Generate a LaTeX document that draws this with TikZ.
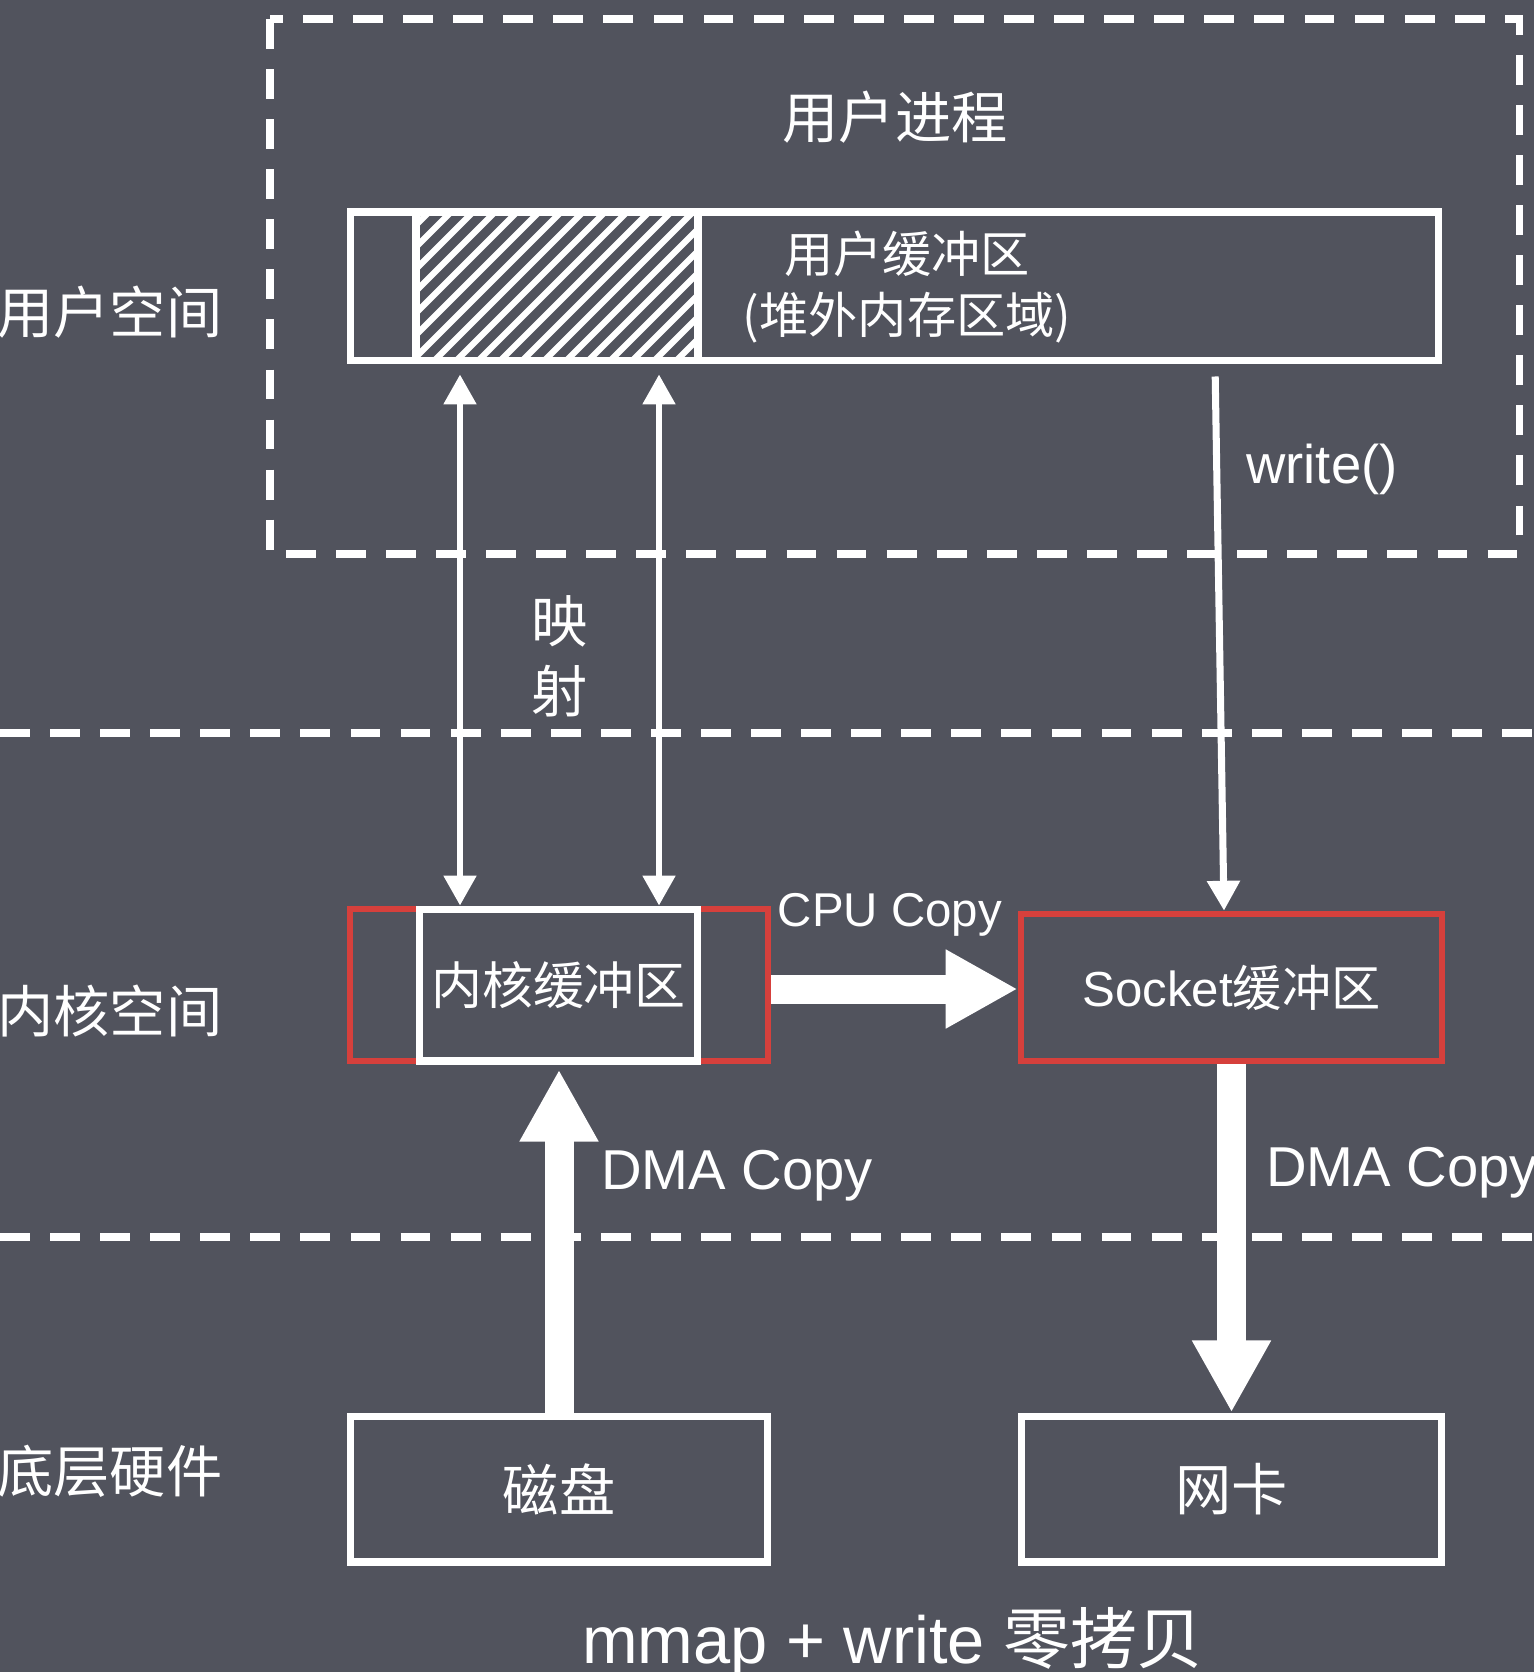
\documentclass[tikz,border=0pt]{standalone}
\usepackage{fontspec}
\setmainfont{Liberation Sans}
\newfontfamily\cjk{Noto Sans CJK SC}
\usetikzlibrary{arrows.meta}
\definecolor{bgcol}{RGB}{81,83,93}
\definecolor{redline}{RGB}{214,64,60}

\begin{document}
\begin{tikzpicture}[x=0.02cm, y=-0.02cm]
		\tikzstyle{box}=[rectangle, draw=white, line width=4pt, inner sep=0pt, text=white, font=\cjk\fontsize{28}{34}\selectfont]
		\tikzstyle{redbox}=[rectangle, draw=redline, line width=3.8pt, inner sep=0pt]
		\tikzstyle{lbl}=[text=white, inner sep=0pt, font=\cjk\fontsize{32}{38}\selectfont]
		\tikzstyle{txt}=[text=white, inner sep=0pt, font=\fontsize{32}{38}\selectfont]
		\tikzstyle{dashline}=[white, line width=4pt, dash pattern=on 17pt off 11.5pt]
		\tikzstyle{hatch}=[white, line width=3.6pt]
		\tikzstyle{maparrow}=[{Triangle[width=18pt,length=17pt]}-{Triangle[width=18pt,length=17pt]}, white, line width=3.5pt]
		\tikzstyle{wline}=[-{Triangle[width=18pt,length=17pt]}, white, line width=4pt]
		\tikzstyle{bigarrow}=[-{Triangle[width=42pt,length=41pt]}, white, line width=16.5pt]
		\useasboundingbox (0,0) rectangle (1534,1672);
		\fill[bgcol] (0,0) rectangle (1534,1672);
		% layers
		\draw[dashline] (270,19) rectangle (1519,554);
		\draw[dashline] (0,733) -- (1534,733);
		\draw[dashline] (0,1237) -- (1534,1237);
		\node[lbl, anchor=west] (uspace) at (-3,312) {用户空间};
		\node[lbl, anchor=west] (kspace) at (-3,1011) {内核空间};
		\node[lbl, anchor=west] (hw) at (-3,1471) {底层硬件};
		\node[lbl] (uproc) at (895,117) {用户进程};
		% user buffer
		\begin{scope}
			\clip (416,212) rectangle (698,361);
			\foreach \x in {236,258,...,720}
				\draw[hatch] (\x,361) -- ++(149,-149);
		\end{scope}
		\node[box, minimum width=21.78cm, minimum height=2.98cm] (ubuf) at (894.5,286.5) {};
		\draw[box] (416,212) -- (416,361) (698,212) -- (698,361);
		\node[lbl, font=\cjk\fontsize{28}{35}\selectfont, align=center] (ubuftxt) at (907,287) {用户缓冲区\\(堆外内存区域)};
		% kernel
		\node[redbox, minimum width=8.36cm, minimum height=3.04cm] (kred) at (559,985) {};
		\node[box, minimum width=5.58cm, minimum height=3.04cm, font=\cjk\fontsize{29}{34}\selectfont] (kbuf) at (558.5,985) {内核缓冲区};
		\node[redbox, minimum width=8.42cm, minimum height=2.94cm, text=white, font=\fontsize{28}{34}\selectfont] (sock) at (1231.5,987.5) {Socket{\cjk 缓冲区}};
		% hardware
		\node[box, minimum width=8.36cm, minimum height=2.92cm, font=\cjk\fontsize{32}{38}\selectfont] (disk) at (559,1489) {磁盘};
		\node[box, minimum width=8.42cm, minimum height=2.92cm, font=\cjk\fontsize{32}{38}\selectfont] (nic) at (1231.5,1489) {网卡};
		\coordinate (mapL) at (460,0);
		\coordinate (mapR) at (659,0);
		\coordinate (wtop) at (1215,0);
		\coordinate (wbot) at (1224,0);
		\node[lbl] (ying) at (560,621) {映};
		\node[lbl] (she) at (560,691) {射};
		\node[txt, font=\fontsize{31}{36}\selectfont] (wlbl) at (1322,469) {write()};
		\node[txt, font=\fontsize{27}{32}\selectfont] (cpulbl) at (890,915) {CPU Copy};
		\node[txt] (dmal) at (737,1176) {DMA Copy};
		\node[txt, anchor=west] (dmar) at (1266,1173) {DMA Copy};
		\node[txt, font=\fontsize{38}{44}\selectfont] (title) at (893,1642) {mmap + write {\cjk 零拷贝}};
		\path
		(ubuf.south -| mapL) edge [maparrow, shorten <=0.2cm] (kbuf.north -| mapL)
		(ubuf.south -| mapR) edge [maparrow, shorten <=0.2cm] (kbuf.north -| mapR)
		(ubuf.south -| wtop) edge [wline, shorten <=0.24cm] (sock.north -| wbot)
		([yshift=-0.08cm]kred.east) edge [bigarrow] ([yshift=-0.08cm]kred.east -| sock.west)
		(disk.north) edge [bigarrow, shorten >=0.1cm] (disk.north |- kbuf.south)
		(sock.south) edge [bigarrow] (nic.north)
		;
	\end{tikzpicture}
\end{document}
